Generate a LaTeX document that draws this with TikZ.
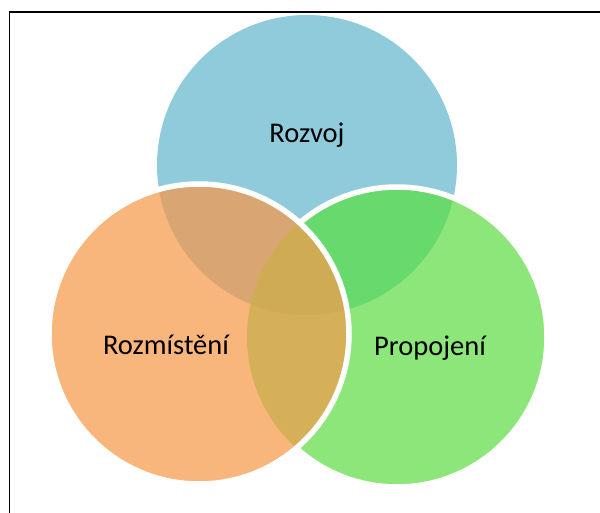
\documentclass[tikz,border=0pt]{standalone}
\usepackage{fontspec}
\setmainfont{Carlito}
\definecolor{vBlue}{HTML}{90CBDC}
\definecolor{vOrange}{HTML}{F8B57C}
\definecolor{vGreen}{HTML}{8CE67A}
\definecolor{vBlueOrange}{HTML}{D8A573}
\definecolor{vBlueGreen}{HTML}{68DA6D}
\definecolor{vOrangeGreen}{HTML}{D6B058}
\definecolor{vAll}{HTML}{CFAC53}
\begin{document}
\begin{tikzpicture}[x=1pt,y=-1pt,
  vlabel/.style={font=\fontsize{28.5}{34}\selectfont, anchor=base, text=black, inner sep=0pt},
  ring/.style={draw=white, line width=5.5pt}]
\useasboundingbox (0,0) rectangle (600,513);
\def\pBlue{(307,165) circle[radius=150]}
\def\pOrange{(199,334) circle[radius=150]}
\def\pGreen{(397,337) circle[radius=150]}
% top circle
\fill[vBlue] \pBlue;
% right circle and its overlap with the top one
\fill[vGreen] \pGreen;
\begin{scope}
  \clip \pGreen;
  \fill[vBlueGreen] \pBlue;
\end{scope}
\draw[ring] \pGreen;
% left circle and its overlaps
\fill[vOrange] \pOrange;
\begin{scope}
  \clip \pOrange;
  \fill[vBlueOrange] \pBlue;
\end{scope}
\begin{scope}
  \clip \pOrange;
  \fill[vOrangeGreen] \pGreen;
  \clip \pGreen;
  \fill[vAll] \pBlue;
\end{scope}
\draw[ring] \pOrange;
% labels
\node[vlabel] (rozvoj) at (307,143) {Rozvoj};
\node[vlabel] (rozmisteni) at (166,354) {Rozmístění};
\node[vlabel] (propojeni) at (430,355) {Propojení};
% frame
\draw[line width=1.8pt] (9.5,513) -- (9.5,12) -- (600,12);
\end{tikzpicture}
\end{document}
